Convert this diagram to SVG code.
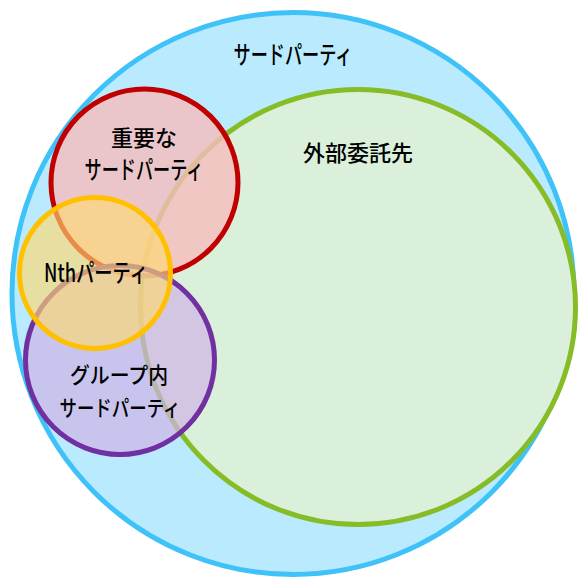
<svg xmlns="http://www.w3.org/2000/svg" width="579" height="578" viewBox="0 0 579 578">
  <style>
    .lbl { font-family: "Noto Sans CJK JP", "Noto Sans", sans-serif; font-size: 22px; fill: #000; text-anchor: middle; font-weight: 500; }
    .kana { font-size: 25px; }
    circle { stroke-width: 5; }
  </style>
  <rect x="0" y="0" width="579" height="578" fill="#ffffff"/>
  <g id="third-party">
    <circle cx="293" cy="293.5" r="281" fill="#B9EAFD" stroke="#3EC2F8"/>
    <text class="lbl kana" x="293" y="64" textLength="119" lengthAdjust="spacingAndGlyphs">サードパーティ</text>
  </g>
  <g id="outsourcing">
    <circle cx="358" cy="307" r="217.5" fill="#DAF0DB" stroke="#86BC25"/>
    <text class="lbl" x="358" y="161">外部委託先</text>
  </g>
  <g id="important-third-party">
    <circle cx="144.5" cy="182.5" r="93.5" fill="#F6BDBE" fill-opacity="0.8" stroke="#C00000" stroke-width="5.5"/>
    <text class="lbl" x="144" y="146">重要な</text>
    <text class="lbl kana" x="144" y="179" textLength="119" lengthAdjust="spacingAndGlyphs">サードパーティ</text>
  </g>
  <g id="group-third-party">
    <circle cx="120" cy="360" r="94.5" fill="#D0B4E7" fill-opacity="0.7" stroke="#7030A0"/>
    <text class="lbl" x="119" y="383" textLength="98" lengthAdjust="spacingAndGlyphs">グループ内</text>
    <text class="lbl" x="120" y="416" textLength="121" lengthAdjust="spacingAndGlyphs">サードパーティ</text>
  </g>
  <g id="nth-party">
    <circle cx="95" cy="273" r="75.5" fill="#FED970" fill-opacity="0.65" stroke="#FFC000"/>
    <text class="lbl kana" x="96" y="282" textLength="104" lengthAdjust="spacingAndGlyphs">Nthパーティ</text>
  </g>
</svg>
